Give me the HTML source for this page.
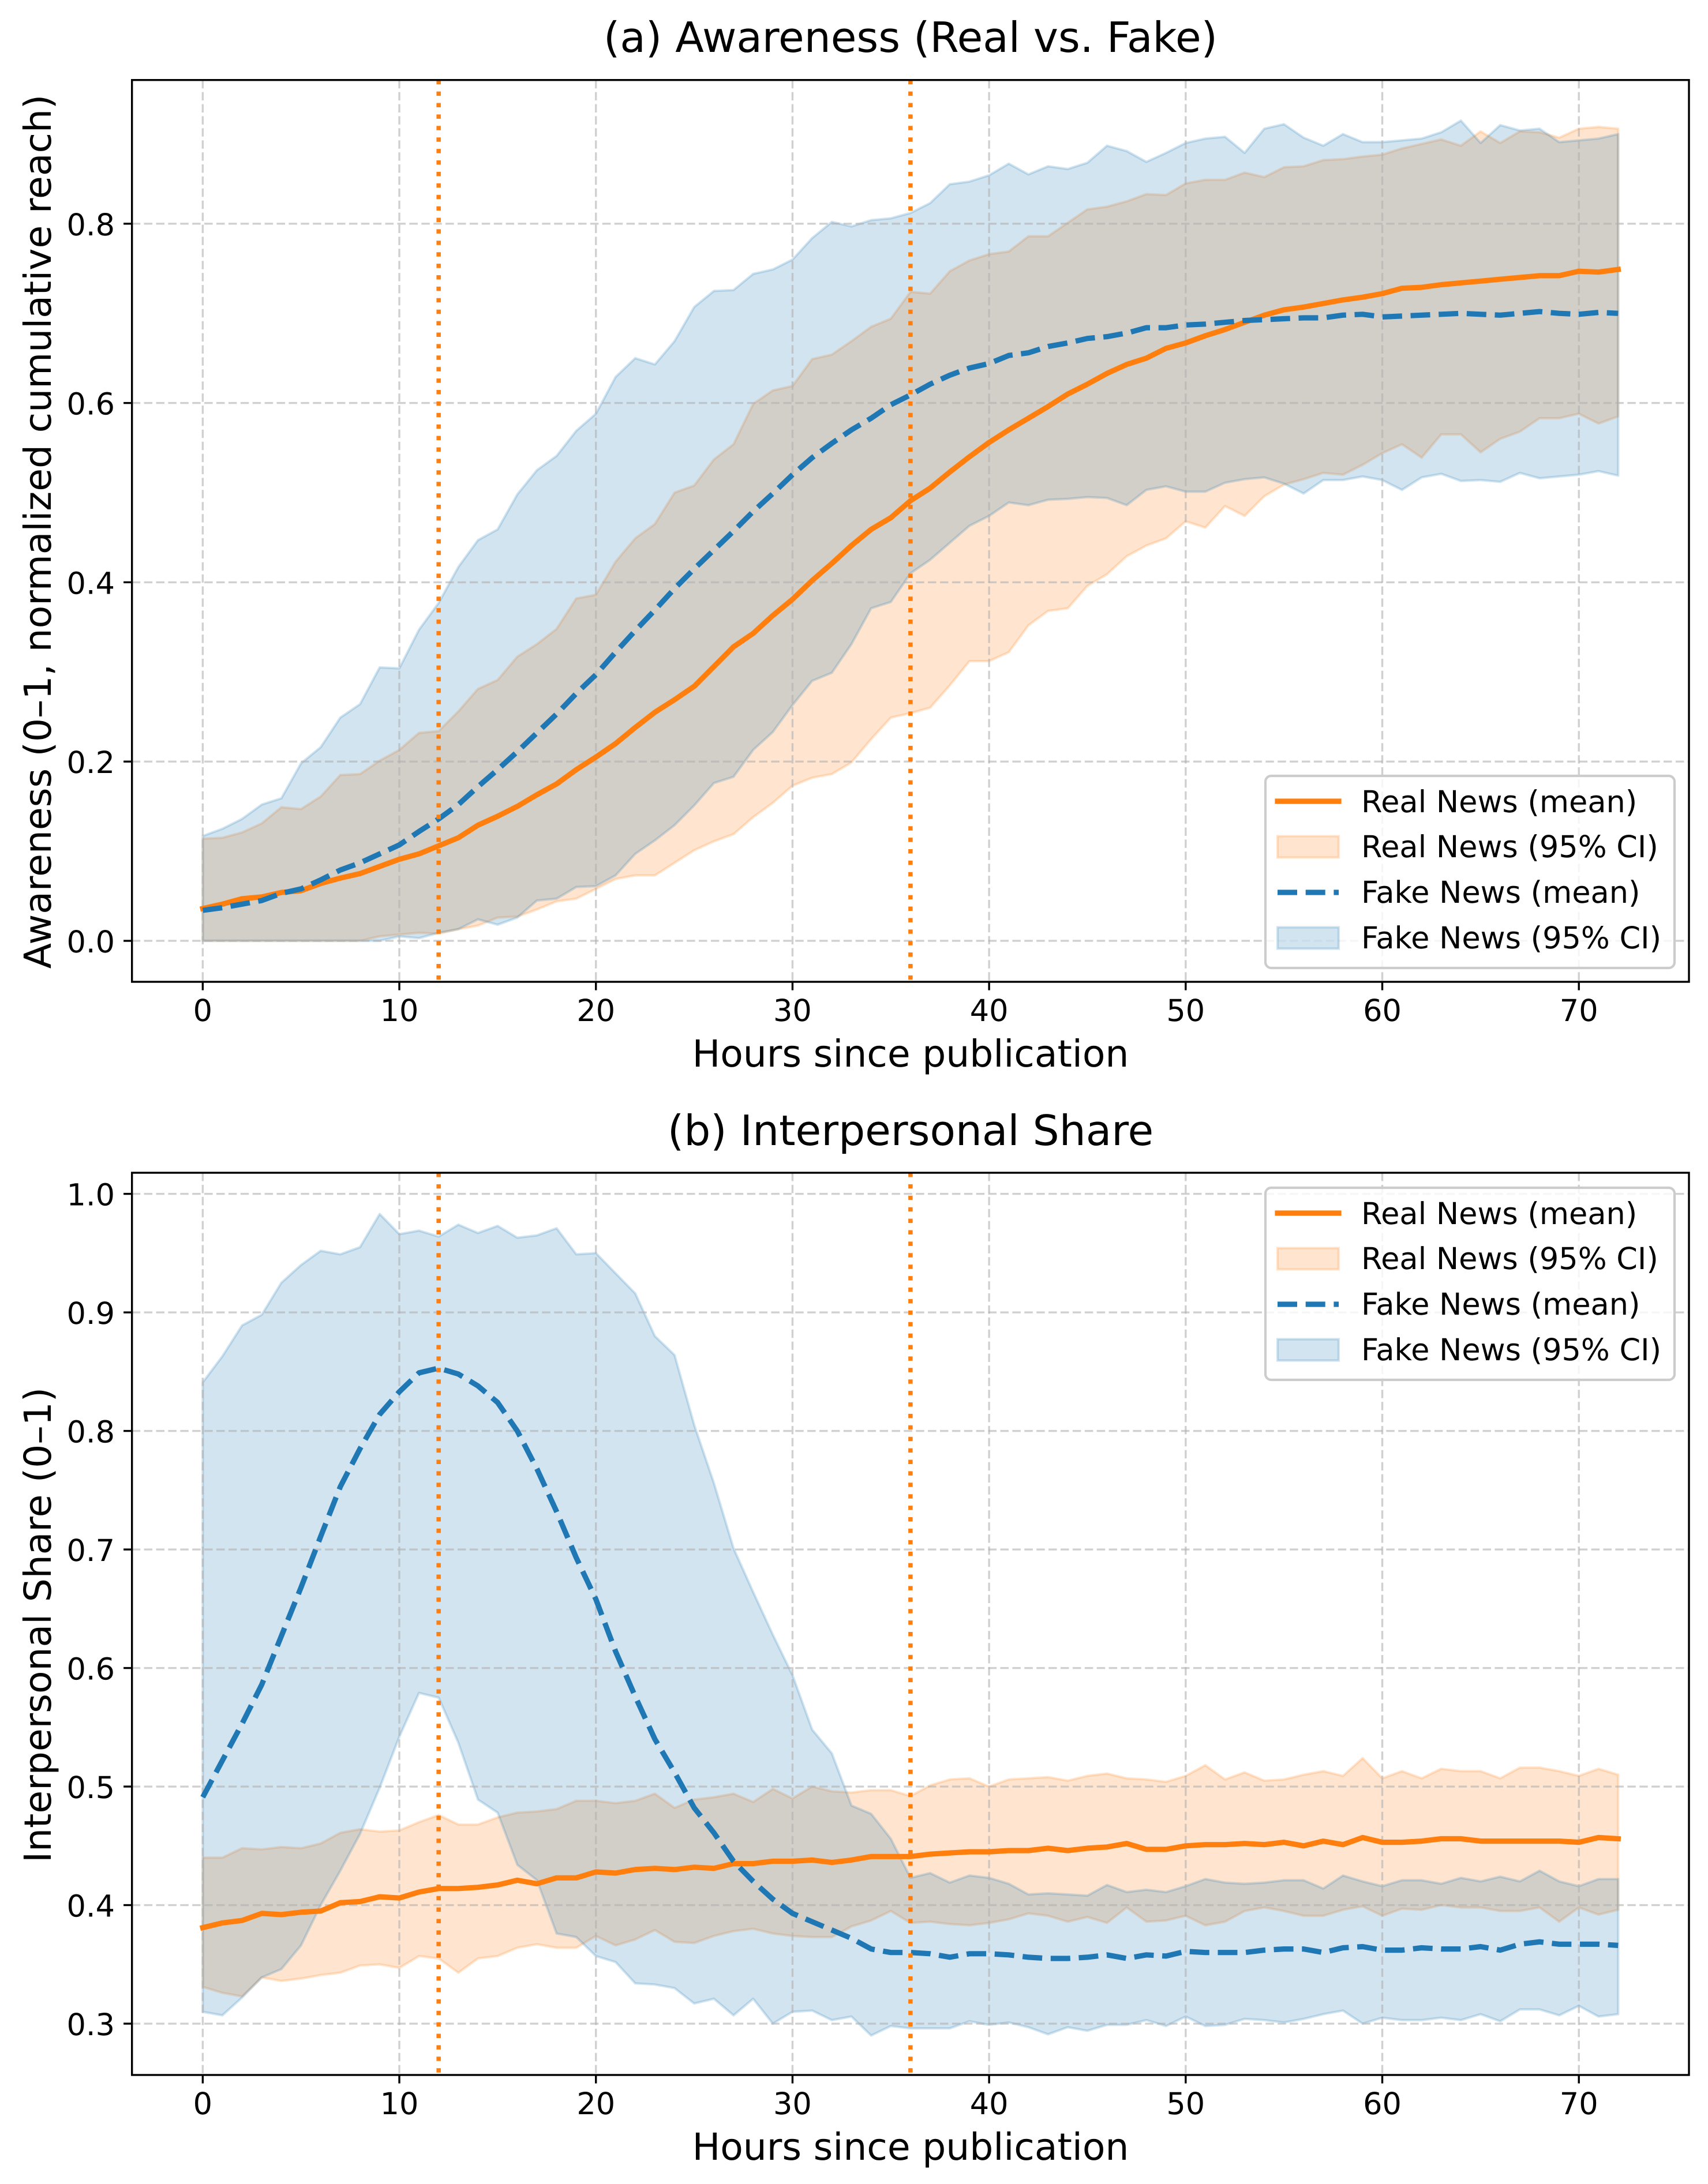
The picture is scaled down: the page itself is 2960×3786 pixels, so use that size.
<!DOCTYPE html>
<html lang="en">
<head>
<meta charset="utf-8">
<title>Awareness and Interpersonal Share (Real vs. Fake)</title>
<style>
html,body{margin:0;padding:0;background:#fff;}
svg{display:block;}
text{font-family:"DejaVu Sans","Liberation Sans",sans-serif;fill:#000;text-rendering:geometricPrecision;}
.title{font-size:72.6px;text-anchor:middle;}
.axis-label{font-size:64.7px;text-anchor:middle;}
.tick-text{font-size:52.5px;}
.legend-text{font-size:52.5px;}
</style>
</head>
<body>
<svg id="figure" xmlns="http://www.w3.org/2000/svg" width="2960" height="3786" viewBox="0 0 2960 3786">
  <rect x="0" y="0" width="2960" height="3786" fill="#ffffff"/>
  <defs>
    <clipPath id="clip-a"><rect x="228.7" y="138.7" width="2698.3" height="1563.3"/></clipPath>
    <clipPath id="clip-b"><rect x="228.7" y="2033" width="2698.3" height="1564"/></clipPath>
  </defs>

  <g id="panel-a">
    <g id="a-bands" clip-path="url(#clip-a)"></g>
    <g id="a-grid" clip-path="url(#clip-a)"></g>
    <g id="a-lines" clip-path="url(#clip-a)"></g>
    <g id="a-events" clip-path="url(#clip-a)"></g>
    <g id="a-ticks"></g>
    <rect x="228.7" y="138.7" width="2698.3" height="1563.3" fill="none" stroke="#000" stroke-width="3.4"/>
    <text class="title" x="1578" y="90">(a) Awareness (Real vs. Fake)</text>
    <text class="axis-label" x="1578" y="1849">Hours since publication</text>
    <text class="axis-label" transform="translate(88 921.5) rotate(-90)">Awareness (0–1, normalized cumulative reach)</text>
    <g transform="translate(2193 1345)">
      <rect x="0" y="0" width="709" height="333" rx="10" ry="10" fill="#ffffff" fill-opacity="0.8" stroke="#cccccc" stroke-width="4.2"/>
      <line x1="21" x2="127" y1="44" y2="44" stroke="#ff7f0e" stroke-width="9.2" stroke-linecap="square"/>
      <text class="legend-text" x="166" y="63">Real News (mean)</text>
      <rect x="21" y="104.5" width="106" height="37" fill="#ff7f0e" fill-opacity="0.2" stroke="#ff7f0e" stroke-opacity="0.2" stroke-width="4.2"/>
      <text class="legend-text" x="166" y="141">Real News (95% CI)</text>
      <line x1="21" x2="127" y1="202" y2="202" stroke="#1f77b4" stroke-width="9.2" stroke-dasharray="34 14.7"/>
      <text class="legend-text" x="166" y="220">Fake News (mean)</text>
      <rect x="21" y="262.5" width="106" height="37" fill="#1f77b4" fill-opacity="0.2" stroke="#1f77b4" stroke-opacity="0.2" stroke-width="4.2"/>
      <text class="legend-text" x="166" y="299">Fake News (95% CI)</text>
    </g>
  </g>

  <g id="panel-b">
    <g id="b-bands" clip-path="url(#clip-b)"></g>
    <g id="b-grid" clip-path="url(#clip-b)"></g>
    <g id="b-lines" clip-path="url(#clip-b)"></g>
    <g id="b-events" clip-path="url(#clip-b)"></g>
    <g id="b-ticks"></g>
    <rect x="228.7" y="2033" width="2698.3" height="1564" fill="none" stroke="#000" stroke-width="3.4"/>
    <text class="title" x="1578" y="1985">(b) Interpersonal Share</text>
    <text class="axis-label" x="1578" y="3744">Hours since publication</text>
    <text class="axis-label" transform="translate(88 2817) rotate(-90)">Interpersonal Share (0–1)</text>
    <g transform="translate(2193 2059)">
      <rect x="0" y="0" width="709" height="333" rx="10" ry="10" fill="#ffffff" fill-opacity="0.8" stroke="#cccccc" stroke-width="4.2"/>
      <line x1="21" x2="127" y1="44" y2="44" stroke="#ff7f0e" stroke-width="9.2" stroke-linecap="square"/>
      <text class="legend-text" x="166" y="63">Real News (mean)</text>
      <rect x="21" y="104.5" width="106" height="37" fill="#ff7f0e" fill-opacity="0.2" stroke="#ff7f0e" stroke-opacity="0.2" stroke-width="4.2"/>
      <text class="legend-text" x="166" y="141">Real News (95% CI)</text>
      <line x1="21" x2="127" y1="202" y2="202" stroke="#1f77b4" stroke-width="9.2" stroke-dasharray="34 14.7"/>
      <text class="legend-text" x="166" y="220">Fake News (mean)</text>
      <rect x="21" y="262.5" width="106" height="37" fill="#1f77b4" fill-opacity="0.2" stroke="#1f77b4" stroke-opacity="0.2" stroke-width="4.2"/>
      <text class="legend-text" x="166" y="299">Fake News (95% CI)</text>
    </g>
  </g>
</svg>

<script>
const hours = [0,1,2,3,4,5,6,7,8,9,10,11,12,13,14,15,16,17,18,19,20,21,22,23,24,25,26,27,28,29,30,31,32,33,34,35,36,37,38,39,40,41,42,43,44,45,46,47,48,49,50,51,52,53,54,55,56,57,58,59,60,61,62,63,64,65,66,67,68,69,70,71,72];
const xTickLabels = ['0','10','20','30','40','50','60','70'];
const awarenessTickLabels = ['0.0','0.2','0.4','0.6','0.8'];
const shareTickLabels = ['0.3','0.4','0.5','0.6','0.7','0.8','0.9','1.0'];
const eventHours = [12,36];

const awarenessRealMean = [.036,.041,.047,.049,.054,.056,.064,.070,.075,.083,
.091,.097,.106,.115,.129,.139,.150,.163,.175,.191,
.205,.220,.238,.255,.269,.284,.306,.328,.343,.363,
.381,.402,.421,.441,.459,.472,.491,.505,.523,.540,
.556,.570,.583,.596,.610,.621,.633,.643,.650,.661,
.667,.675,.682,.690,.698,.704,.707,.711,.715,.718,
.722,.728,.729,.732,.734,.736,.738,.740,.742,.742,
.747,.746,.749];
const awarenessRealLow = [0,0,0,0,0,0,0,0,0,.005,
.007,.009,.008,.013,.017,.026,.027,.035,.044,.047,
.058,.069,.073,.073,.087,.101,.111,.119,.138,.154,
.173,.182,.186,.199,.225,.249,.254,.260,.285,.312,
.312,.322,.352,.368,.371,.396,.409,.429,.441,.449,
.468,.461,.485,.474,.496,.509,.515,.522,.520,.531,
.544,.554,.539,.565,.565,.545,.560,.568,.583,.583,
.588,.577,.585];
const awarenessRealHigh = [.114,.115,.121,.131,.149,.147,.161,.185,.186,.201,
.213,.232,.234,.256,.281,.291,.317,.331,.348,.382,
.386,.423,.449,.465,.500,.508,.537,.554,.599,.614,
.619,.649,.654,.669,.685,.694,.724,.722,.747,.759,
.766,.769,.786,.786,.801,.816,.819,.825,.833,.832,
.845,.849,.849,.857,.852,.863,.864,.871,.872,.875,
.877,.884,.889,.894,.887,.903,.890,.903,.902,.896,
.906,.908,.906];
const awarenessFakeMean = [.034,.037,.041,.045,.053,.058,.068,.079,.087,.097,
.107,.122,.136,.152,.172,.191,.211,.232,.253,.276,
.297,.322,.346,.369,.393,.415,.436,.457,.479,.499,
.520,.539,.555,.570,.583,.598,.609,.621,.631,.639,
.644,.653,.656,.663,.667,.672,.674,.678,.684,.684,
.687,.688,.690,.692,.693,.694,.695,.695,.698,.699,
.696,.697,.698,.699,.700,.699,.698,.700,.702,.700,
.699,.701,.700];
const awarenessFakeLow = [0,0,0,0,0,0,0,0,0,0,
.005,.003,.009,.013,.024,.018,.026,.045,.047,.060,
.061,.073,.097,.112,.129,.151,.176,.183,.213,.233,
.263,.290,.299,.331,.371,.378,.410,.425,.444,.463,
.474,.489,.486,.492,.493,.495,.494,.486,.503,.507,
.501,.501,.511,.515,.517,.510,.499,.514,.514,.518,
.514,.503,.517,.521,.513,.514,.512,.522,.516,.518,
.520,.524,.519];
const awarenessFakeHigh = [.117,.125,.136,.152,.159,.198,.216,.249,.264,.305,
.304,.347,.377,.417,.447,.459,.498,.525,.541,.569,
.588,.629,.650,.643,.669,.707,.725,.726,.744,.749,
.760,.784,.802,.797,.804,.806,.812,.823,.844,.847,
.854,.867,.855,.864,.861,.868,.887,.881,.869,.879,
.890,.895,.897,.879,.906,.911,.896,.887,.900,.891,
.891,.893,.895,.902,.915,.890,.910,.904,.906,.891,
.893,.895,.900];

const shareRealMean = [.381,.385,.387,.393,.392,.394,.395,.402,.403,.407,
.406,.411,.414,.414,.415,.417,.421,.418,.423,.423,
.428,.427,.430,.431,.430,.432,.431,.435,.435,.437,
.437,.438,.436,.438,.441,.441,.441,.443,.444,.445,
.445,.446,.446,.448,.446,.448,.449,.452,.447,.447,
.450,.451,.451,.452,.451,.453,.450,.454,.451,.457,
.453,.453,.454,.456,.456,.454,.454,.454,.454,.454,
.453,.457,.456];
const shareRealLow = [.331,.326,.323,.339,.336,.338,.341,.343,.349,.350,
.347,.357,.355,.343,.355,.357,.364,.367,.364,.364,
.374,.366,.371,.379,.369,.368,.374,.378,.380,.376,
.374,.373,.373,.382,.387,.395,.385,.386,.384,.383,
.385,.388,.393,.391,.386,.390,.385,.398,.386,.387,
.391,.383,.386,.395,.398,.395,.391,.391,.396,.399,
.391,.397,.396,.400,.398,.398,.395,.395,.398,.386,
.398,.392,.396];
const shareRealHigh = [.440,.440,.448,.447,.449,.448,.452,.461,.464,.462,
.463,.470,.476,.468,.468,.474,.478,.479,.481,.488,
.488,.486,.488,.494,.482,.489,.491,.494,.487,.498,
.490,.500,.496,.495,.497,.497,.492,.501,.506,.507,
.500,.506,.507,.508,.505,.509,.511,.507,.506,.504,
.509,.518,.506,.512,.505,.506,.510,.513,.509,.524,
.507,.513,.507,.515,.513,.513,.507,.516,.516,.513,
.509,.515,.510];
const shareFakeMean = [.491,.522,.553,.586,.627,.668,.711,.753,.785,.814,
.833,.849,.853,.848,.838,.824,.800,.768,.732,.693,
.658,.614,.576,.540,.512,.482,.461,.437,.420,.405,
.393,.386,.379,.372,.363,.360,.360,.359,.356,.359,
.359,.358,.356,.355,.355,.356,.358,.355,.358,.357,
.361,.360,.360,.360,.362,.363,.363,.360,.364,.365,
.362,.362,.364,.363,.363,.365,.362,.367,.369,.367,
.367,.367,.366];
const shareFakeLow = [.310,.307,.322,.339,.346,.366,.400,.429,.460,.499,
.542,.579,.575,.537,.489,.478,.434,.421,.376,.373,
.357,.352,.334,.333,.330,.317,.321,.307,.321,.300,
.310,.311,.303,.306,.290,.298,.296,.296,.296,.302,
.299,.301,.297,.291,.297,.294,.299,.299,.303,.298,
.306,.298,.299,.304,.303,.301,.304,.308,.311,.300,
.305,.303,.303,.305,.303,.308,.302,.312,.312,.307,
.315,.306,.308];
const shareFakeHigh = [.841,.863,.889,.898,.925,.940,.952,.949,.955,.983,
.966,.969,.964,.974,.967,.973,.963,.965,.971,.949,
.950,.933,.916,.880,.864,.805,.756,.701,.664,.628,
.594,.548,.528,.484,.477,.456,.423,.427,.419,.425,
.423,.418,.409,.410,.409,.408,.417,.411,.413,.411,
.416,.422,.419,.418,.419,.421,.421,.414,.425,.420,
.416,.421,.421,.418,.423,.420,.424,.420,.429,.420,
.416,.422,.422];

const SVG_NS = 'http://www.w3.org/2000/svg';
const PLOT_LEFT = 228.7, PLOT_RIGHT = 2927;
const X_MIN = -3.6, X_MAX = 75.6;
const ORANGE = '#ff7f0e', BLUE = '#1f77b4';

function xScale(h) {
  return PLOT_LEFT + (h - X_MIN) / (X_MAX - X_MIN) * (PLOT_RIGHT - PLOT_LEFT);
}
function makeYScale(top, bottom, vMin, vMax) {
  return function (v) {
    return bottom - (v - vMin) / (vMax - vMin) * (bottom - top);
  };
}
function pointsOf(xs, ys, yScale) {
  return xs.map(function (h, i) {
    return xScale(h).toFixed(1) + ',' + yScale(ys[i]).toFixed(1);
  });
}

function drawBand(groupId, low, high, color, yScale, name) {
  const el = document.createElementNS(SVG_NS, 'polygon');
  const upper = pointsOf(hours, high, yScale);
  const lower = pointsOf(hours, low, yScale).reverse();
  el.setAttribute('points', upper.concat(lower).join(' '));
  el.setAttribute('fill', color);
  el.setAttribute('fill-opacity', '0.2');
  el.setAttribute('stroke', color);
  el.setAttribute('stroke-opacity', '0.2');
  el.setAttribute('stroke-width', '4.2');
  el.setAttribute('stroke-linejoin', 'round');
  
  
  document.getElementById(groupId).appendChild(el);
}

function drawMean(groupId, values, color, dashed, yScale, name) {
  const el = document.createElementNS(SVG_NS, 'polyline');
  el.setAttribute('points', pointsOf(hours, values, yScale).join(' '));
  el.setAttribute('fill', 'none');
  el.setAttribute('stroke', color);
  el.setAttribute('stroke-width', '9.2');
  el.setAttribute('stroke-linejoin', 'round');
  if (dashed) {
    el.setAttribute('stroke-dasharray', '34 14.7');
  } else {
    el.setAttribute('stroke-linecap', 'square');
  }
  
  
  document.getElementById(groupId).appendChild(el);
}

function drawSegment(parent, x1, y1, x2, y2, stroke, width, dash, opacity, name) {
  const el = document.createElementNS(SVG_NS, 'line');
  el.setAttribute('x1', x1);
  el.setAttribute('y1', y1);
  el.setAttribute('x2', x2);
  el.setAttribute('y2', y2);
  el.setAttribute('stroke', stroke);
  el.setAttribute('stroke-width', width);
  if (dash) el.setAttribute('stroke-dasharray', dash);
  if (opacity) el.setAttribute('stroke-opacity', opacity);
  
  
  parent.appendChild(el);
}

function drawLabel(parent, x, y, anchor, label, name) {
  const el = document.createElementNS(SVG_NS, 'text');
  el.setAttribute('class', 'tick-text');
  el.setAttribute('x', x);
  el.setAttribute('y', y);
  el.setAttribute('text-anchor', anchor);
  
  
  el.textContent = label;
  parent.appendChild(el);
}

function drawAxes(prefix, top, bottom, yLabels, yScale) {
  const grid = document.getElementById(prefix + '-grid');
  const ticks = document.getElementById(prefix + '-ticks');
  const events = document.getElementById(prefix + '-events');
  xTickLabels.forEach(function (label) {
    const x = xScale(parseFloat(label));
    drawSegment(grid, x, top, x, bottom, '#b0b0b0', 3.4, '14.5 6.4', '0.6', 'x-gridline-' + label);
    drawSegment(ticks, x, bottom, x, bottom + 14.6, '#000', 3.4, null, null, 'x-tick-' + label);
    drawLabel(ticks, x, bottom + 68, 'middle', label, 'x-tick-label-' + label);
  });
  yLabels.forEach(function (label) {
    const y = yScale(parseFloat(label));
    drawSegment(grid, PLOT_LEFT, y, PLOT_RIGHT, y, '#b0b0b0', 3.4, '14.5 6.4', '0.6', 'y-gridline-' + label);
    drawSegment(ticks, PLOT_LEFT - 14.6, y, PLOT_LEFT, y, '#000', 3.4, null, null, 'y-tick-' + label);
    drawLabel(ticks, 199, y + 20, 'end', label, 'y-tick-label-' + label);
  });
  eventHours.forEach(function (h) {
    const x = xScale(h);
    drawSegment(events, x, top, x, bottom, ORANGE, 7.5, '7.5 12.4', null, 'event-line-hour-' + h);
  });
}

const yScaleAwareness = makeYScale(138.7, 1702, -0.0457, 0.9603);
const yScaleShare = makeYScale(2033, 3597, 0.2567, 1.0178);

drawBand('a-bands', awarenessRealLow, awarenessRealHigh, ORANGE, yScaleAwareness, 'awareness-real-ci-band');
drawBand('a-bands', awarenessFakeLow, awarenessFakeHigh, BLUE, yScaleAwareness, 'awareness-fake-ci-band');
drawMean('a-lines', awarenessRealMean, ORANGE, false, yScaleAwareness, 'awareness-real-mean-line');
drawMean('a-lines', awarenessFakeMean, BLUE, true, yScaleAwareness, 'awareness-fake-mean-line');
drawAxes('a', 138.7, 1702, awarenessTickLabels, yScaleAwareness);

drawBand('b-bands', shareRealLow, shareRealHigh, ORANGE, yScaleShare, 'share-real-ci-band');
drawBand('b-bands', shareFakeLow, shareFakeHigh, BLUE, yScaleShare, 'share-fake-ci-band');
drawMean('b-lines', shareRealMean, ORANGE, false, yScaleShare, 'share-real-mean-line');
drawMean('b-lines', shareFakeMean, BLUE, true, yScaleShare, 'share-fake-mean-line');
drawAxes('b', 2033, 3597, shareTickLabels, yScaleShare);
</script>
</body>
</html>
